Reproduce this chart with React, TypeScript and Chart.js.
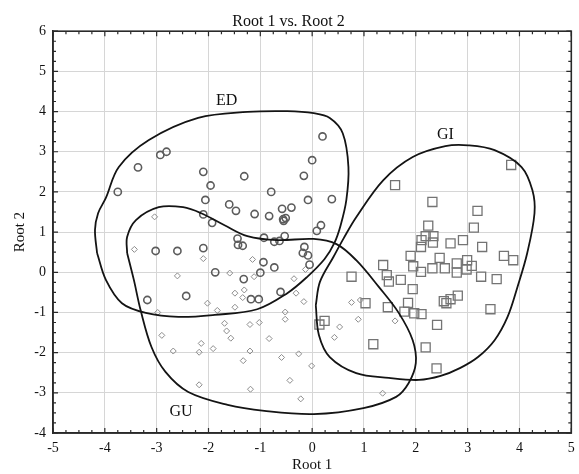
import React, { useEffect, useRef } from "react";
import { Chart, registerables } from "chart.js";

Chart.register(...registerables);

const chartTitle = "Root 1 vs. Root 2";
const xAxisTitle = "Root 1";
const yAxisTitle = "Root 2";
const xMin = -5;
const xMax = 5;
const yMin = -4;
const yMax = 6;

// ED group (circles)
const edX = [-2.93, -2.81, -3.36, -2.10, -1.96, -3.75, -2.06, -1.60, -1.47, -2.10, -1.93, -1.31, -1.44, -1.43, -1.34, -3.02, -2.60, -2.10, 0.20, 0.00, -0.16, -0.79, -0.08, 0.38, -1.11, -0.83, -0.58, -0.40, -0.56, -0.51, -0.55, 0.17, 0.09, -0.93, -0.73, -0.63, -0.53, -0.15, -0.08, -0.18, -0.05, -0.94, -0.73, -1.00, -1.87, -1.32, -0.61, -2.43, -1.18, -1.03, -3.18];
const edY = [2.92, 3.00, 2.61, 2.50, 2.16, 2.00, 1.80, 1.69, 1.53, 1.44, 1.23, 2.39, 0.84, 0.68, 0.66, 0.53, 0.53, 0.60, 3.38, 2.79, 2.40, 2.00, 1.80, 1.82, 1.45, 1.40, 1.58, 1.61, 1.32, 1.35, 1.28, 1.17, 1.03, 0.86, 0.76, 0.78, 0.90, 0.63, 0.42, 0.48, 0.19, 0.25, 0.12, -0.01, 0.00, -0.17, -0.49, -0.59, -0.67, -0.67, -0.69];

// GU group (diamonds)
const guX = [-3.04, -3.43, -2.10, -1.15, -2.60, -1.59, -1.12, -0.35, -0.13, -1.31, -1.49, -1.34, -0.16, -2.02, -1.83, -1.49, -0.52, -0.52, -0.31, -2.98, -1.69, -1.65, -1.57, -1.20, -1.02, -0.83, -2.90, -2.68, -2.14, -2.18, -1.91, -1.20, -1.33, -2.18, -1.19, -0.59, -0.43, -0.26, -0.01, -0.22, 1.36, 0.76, 0.93, 0.89, 1.60, 0.53, 0.43];
const guY = [1.38, 0.57, 0.34, 0.32, -0.09, -0.02, -0.11, -0.16, 0.07, -0.44, -0.52, -0.63, -0.73, -0.77, -0.95, -0.87, -0.99, -1.17, -0.52, -1.00, -1.27, -1.46, -1.64, -1.30, -1.25, -1.65, -1.57, -1.96, -1.77, -1.99, -1.90, -1.96, -2.20, -2.80, -2.91, -2.12, -2.69, -2.03, -2.33, -3.15, -3.01, -0.75, -0.69, -1.17, -1.21, -1.36, -1.62];

// GI group (squares)
const giX = [1.60, 2.32, 3.19, 3.84, 3.12, 2.24, 2.19, 2.11, 2.34, 2.33, 2.10, 2.67, 2.91, 3.28, 3.70, 3.88, 1.90, 2.46, 2.79, 2.99, 3.08, 1.37, 1.95, 2.10, 2.32, 2.56, 2.79, 2.98, 1.44, 1.48, 1.71, 3.26, 3.56, 1.94, 0.76, 1.03, 1.85, 1.78, 1.97, 2.11, 1.46, 2.54, 2.67, 2.81, 2.59, 3.44, 2.41, 0.24, 0.14, 1.18, 2.19, 2.40];
const giY = [2.17, 1.75, 1.53, 2.67, 1.11, 1.16, 0.90, 0.80, 0.90, 0.74, 0.63, 0.72, 0.80, 0.63, 0.41, 0.30, 0.41, 0.36, 0.22, 0.30, 0.16, 0.18, 0.15, 0.01, 0.10, 0.10, -0.01, 0.07, -0.07, -0.23, -0.19, -0.11, -0.17, -0.42, -0.11, -0.77, -0.76, -0.98, -1.02, -1.04, -0.87, -0.72, -0.67, -0.58, -0.77, -0.92, -1.31, -1.21, -1.30, -1.79, -1.87, -2.39];

// Closed contours around each group
const edCurveX = [-4.15, -4.19, -4.13, -3.98, -3.73, -3.15, -2.20, -1.25, -0.48, 0.03, 0.34, 0.59, 0.70, 0.66, 0.55, 0.43, 0.24, -0.10, -0.48, -1.06, -1.88, -2.58, -3.21, -3.67, -3.98];
const edCurveY = [0.48, 1.05, 1.47, 1.85, 2.62, 3.29, 3.84, 3.99, 4.01, 3.96, 3.84, 3.46, 2.62, 1.80, 1.17, 0.73, 0.33, -0.12, -0.52, -0.92, -1.06, -1.11, -1.01, -0.77, -0.19];
const guCurveX = [-3.57, -3.57, -3.40, -2.96, -2.49, -2.14, -1.69, -1.25, -0.67, 0.03, 0.47, 0.85, 1.29, 1.67, 1.94, 2.00, 1.86, 1.62, 0.99, 0.03, -0.92, -1.63, -2.39, -2.83, -3.10, -3.31, -3.44];
const guCurveY = [0.48, 0.88, 1.30, 1.62, 1.62, 1.47, 1.17, 0.90, 0.80, 0.83, 0.70, 0.30, -0.37, -1.01, -1.69, -2.26, -2.76, -3.10, -3.38, -3.53, -3.45, -3.30, -2.98, -2.48, -1.86, -0.94, -0.19];
const giCurveX = [0.07, 0.15, 0.41, 0.61, 0.85, 1.37, 1.94, 2.57, 3.01, 3.52, 4.04, 4.25, 4.29, 4.15, 3.96, 3.77, 3.52, 3.20, 2.86, 2.48, 2.06, 1.48, 0.85, 0.34, 0.13];
const giCurveY = [-0.82, -0.24, 0.38, 0.85, 1.37, 2.29, 2.87, 3.14, 3.16, 3.04, 2.62, 2.04, 1.47, 0.48, -0.37, -1.11, -1.69, -2.11, -2.38, -2.58, -2.68, -2.63, -2.51, -2.11, -1.56];

const groupLabels = ["ED", "GI", "GU"];
const groupLabelX = [-1.65, 2.57, -2.53];
const groupLabelY = [4.26, 3.41, -3.46];

const FONT = '"Liberation Serif", "Times New Roman", serif';

function pts(xs: number[], ys: number[]) {
  return xs.map((x, i) => ({ x, y: ys[i] }));
}
function loop(xs: number[], ys: number[]) {
  const p = pts(xs, ys);
  p.push({ ...p[0] });
  return p;
}

const framePlugin = {
  id: "frameAndLabels",
  afterDatasetsDraw(chart: any) {
    const { ctx, chartArea, scales } = chart;
    const { left, right, top, bottom } = chartArea;
    const xs = scales.x;
    const ys = scales.y;
    ctx.save();
    ctx.strokeStyle = "#2a2a2a";
    ctx.lineWidth = 1.2;
    ctx.beginPath();
    for (let v = xMin; v <= xMax + 1e-9; v += 0.25) {
      const px = xs.getPixelForValue(v);
      const len = Math.abs(v - Math.round(v)) < 1e-6 ? 5 : 3;
      ctx.moveTo(px, bottom);
      ctx.lineTo(px, bottom - len);
      ctx.moveTo(px, top);
      ctx.lineTo(px, top + len);
    }
    for (let v = yMin; v <= yMax + 1e-9; v += 0.25) {
      const py = ys.getPixelForValue(v);
      const len = Math.abs(v - Math.round(v)) < 1e-6 ? 5 : 3;
      ctx.moveTo(left, py);
      ctx.lineTo(left + len, py);
      ctx.moveTo(right, py);
      ctx.lineTo(right - len, py);
    }
    ctx.stroke();
    ctx.lineWidth = 1.6;
    ctx.strokeRect(left, top, right - left, bottom - top);
    ctx.font = "16px " + FONT;
    ctx.fillStyle = "#111";
    ctx.textAlign = "center";
    ctx.textBaseline = "middle";
    groupLabels.forEach((t, i) => {
      ctx.fillText(t, xs.getPixelForValue(groupLabelX[i]), ys.getPixelForValue(groupLabelY[i]));
    });
    ctx.restore();
  },
};

export default function App() {
  const ref = useRef<HTMLCanvasElement | null>(null);
  useEffect(() => {
    if (!ref.current) return;
    const curveStyle = {
      showLine: true,
      borderColor: "#141414",
      borderWidth: 1.8,
      pointRadius: 0,
      tension: 0.35,
      fill: false,
    };
    const chart = new Chart(ref.current, {
      type: "scatter",
      data: {
        datasets: [
          { label: "ED contour", data: loop(edCurveX, edCurveY), ...curveStyle },
          { label: "GU contour", data: loop(guCurveX, guCurveY), ...curveStyle },
          { label: "GI contour", data: loop(giCurveX, giCurveY), ...curveStyle },
          {
            label: "ED",
            data: pts(edX, edY),
            pointStyle: "circle",
            pointRadius: 3.6,
            borderWidth: 1.6,
            borderColor: "#5c5c5c",
            backgroundColor: "rgba(0,0,0,0)",
          },
          {
            label: "GU",
            data: pts(guX, guY),
            pointStyle: "rectRot",
            pointRadius: 3,
            borderWidth: 1,
            borderColor: "#8c8c8c",
            backgroundColor: "rgba(0,0,0,0)",
          },
          {
            label: "GI",
            data: pts(giX, giY),
            pointStyle: "rect",
            pointRadius: 6.4,
            borderWidth: 1.3,
            borderColor: "#747474",
            backgroundColor: "rgba(0,0,0,0)",
          },
        ],
      },
      options: {
        responsive: false,
        animation: false,
        events: [],
        layout: { padding: { left: 0, right: 2, top: 0, bottom: 0 } },
        plugins: {
          legend: { display: false },
          tooltip: { enabled: false },
          title: {
            display: true,
            text: chartTitle,
            color: "#111",
            font: { family: FONT, size: 16, weight: "normal" },
            padding: { top: 12, bottom: 0 },
          },
        },
        scales: {
          x: {
            type: "linear",
            min: xMin,
            max: xMax,
            ticks: { stepSize: 1, color: "#111", padding: 7, maxRotation: 0, font: { family: FONT, size: 14 } },
            grid: { color: "#d6d6d6", drawTicks: false, lineWidth: 1 },
            border: { display: true, color: "#2a2a2a", width: 1.5 },
            title: { display: true, text: xAxisTitle, color: "#111", font: { family: FONT, size: 15 }, padding: { top: 0, bottom: 0 } },
            afterFit: (s: any) => {
              s.height = 41;
              s.paddingLeft = 0;
              s.paddingRight = 0;
            },
          },
          y: {
            type: "linear",
            min: yMin,
            max: yMax,
            ticks: { stepSize: 1, color: "#111", padding: 7, font: { family: FONT, size: 14 } },
            grid: { color: "#d6d6d6", drawTicks: false, lineWidth: 1 },
            border: { display: true, color: "#2a2a2a", width: 1.5 },
            title: { display: true, text: yAxisTitle, color: "#111", font: { family: FONT, size: 15 }, padding: { top: 11, bottom: 0 } },
            afterFit: (s: any) => {
              s.width = 53;
              s.paddingTop = 0;
              s.paddingBottom = 0;
            },
          },
        },
      },
      plugins: [framePlugin],
    } as any);
    return () => chart.destroy();
  }, []);
  return (
    <div style={{ position: "absolute", left: 0, top: 0, width: 579, height: 474, background: "#fff" }}>
      <canvas ref={ref} width={579} height={474} style={{ display: "block" }} />
    </div>
  );
}
